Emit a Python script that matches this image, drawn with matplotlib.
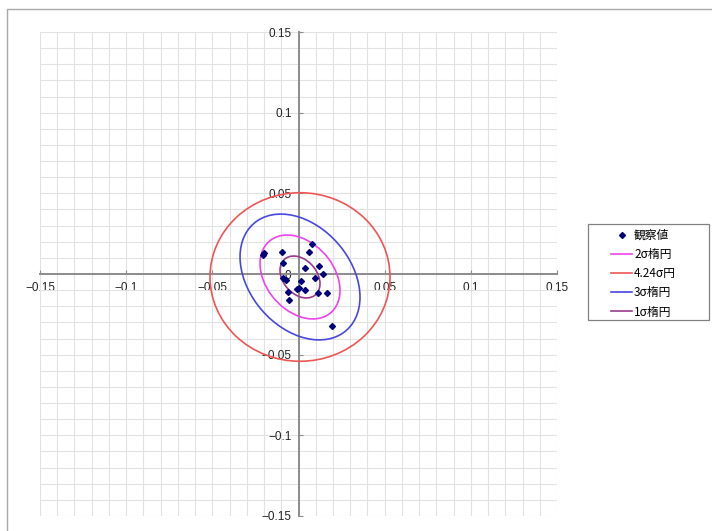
import numpy as np
import matplotlib
matplotlib.use('Agg')
from matplotlib import pyplot as plt
from matplotlib.patches import Ellipse, Circle, Rectangle
from matplotlib.lines import Line2D
from matplotlib.ticker import MultipleLocator, FuncFormatter

plt.rcParams['font.family'] = ['Liberation Sans', 'DejaVu Sans']

# observed deviations
obs_x = [-0.0200, -0.0204, -0.0094, 0.0080, 0.0063, -0.0092, 0.0038, 0.0121, 0.0140, 0.0096, -0.0088,
         -0.0075, 0.0015, -0.0010, 0.0003, 0.0038, -0.0059, 0.0111, 0.0164, -0.0055, 0.0193]
obs_y = [0.0129, 0.0119, 0.0135, 0.0187, 0.0135, 0.0071, 0.0036, 0.0051, -0.0001, -0.0026, -0.0026,
         -0.0040, -0.0046, -0.0092, -0.0084, -0.0102, -0.0113, -0.0119, -0.0119, -0.0160, -0.0325]

# error ellipse parameters
sig_x = 0.0116
sig_y = 0.0130
rho = -0.32
ellipse_k = [2, 3, 1]
ellipse_labels = ['2σ楕円', '3σ楕円', '1σ楕円']
ellipse_colors = ['#ee44ee', '#4848e0', '#983c8c']
circle_k = 4.24
circle_label = '4.24σ円'
circle_color = '#ee5555'
obs_label = '観察値'

ticks = [-0.15, -0.1, -0.05, 0, 0.05, 0.1, 0.15]

cx, cy = np.mean(obs_x), np.mean(obs_y)
cov = np.array([[sig_x ** 2, rho * sig_x * sig_y], [rho * sig_x * sig_y, sig_y ** 2]])
vals, vecs = np.linalg.eigh(cov)
angle = np.degrees(np.arctan2(vecs[1, 1], vecs[0, 1]))
sig_r = np.sqrt((sig_x ** 2 + sig_y ** 2) / 2)

fig = plt.figure(figsize=(7.12, 5.31), dpi=100)
ax = fig.add_axes([40 / 712, 1 - 516 / 531, 517 / 712, 484 / 531])

ax.set_xlim(-0.15, 0.15)
ax.set_ylim(-0.15, 0.15)
ax.set_xticks(ticks)
ax.set_yticks(ticks)
ax.xaxis.set_minor_locator(MultipleLocator(0.01))
ax.yaxis.set_minor_locator(MultipleLocator(0.01))
ax.grid(which='both', color='#e2e2e2', lw=0.8, zorder=0)
ax.set_axisbelow(True)

for s in ['top', 'right']:
    ax.spines[s].set_visible(False)
for s in ['left', 'bottom']:
    ax.spines[s].set_position('zero')
    ax.spines[s].set_color('#8c8c8c')
    ax.spines[s].set_linewidth(1.4)

def fmt(v, pos, skip_zero=False):
    if abs(v) < 1e-9:
        return '' if skip_zero else '0'
    return ('%g' % v).replace('-', '\u2212')

ax.xaxis.set_major_formatter(FuncFormatter(lambda v, p: fmt(v, p, True)))
ax.yaxis.set_major_formatter(FuncFormatter(fmt))
ax.tick_params(which='major', direction='in', length=3, color='#8c8c8c', labelsize=8.5, labelcolor='#222222')
ax.tick_params(axis='x', which='major', pad=6)
ax.tick_params(axis='y', which='major', pad=5)
ax.tick_params(which='minor', length=0)

ax.add_patch(Circle((cx, cy), circle_k * sig_r, fill=False, ec=circle_color, lw=1.2, zorder=3))
for k, c in zip(ellipse_k, ellipse_colors):
    ax.add_patch(Ellipse((cx, cy), 2 * k * np.sqrt(vals[1]), 2 * k * np.sqrt(vals[0]),
                         angle=angle, fill=False, ec=c, lw=1.2, zorder=3))

ax.plot(obs_x, obs_y, 'D', color='#00007a', ms=3.0, zorder=4)

handles = [Line2D([], [], ls='none', marker='D', color='#00007a', ms=3.0),
           Line2D([], [], color=ellipse_colors[0], lw=1.2),
           Line2D([], [], color=circle_color, lw=1.2),
           Line2D([], [], color=ellipse_colors[1], lw=1.2),
           Line2D([], [], color=ellipse_colors[2], lw=1.2)]
labels = [obs_label, ellipse_labels[0], circle_label, ellipse_labels[1], ellipse_labels[2]]
leg = fig.legend(handles, labels, loc='upper left', bbox_to_anchor=(611 / 712, 1 - 229 / 531),
                 prop={'family': ['Noto Sans CJK JP', 'DejaVu Sans'], 'size': 8.5},
                 frameon=False, handlelength=1.8, handletextpad=0.15, labelspacing=0.52,
                 borderpad=0, borderaxespad=0)

# legend box
fig.add_artist(Rectangle((588 / 712, 1 - 320 / 531), 121 / 712, 96 / 531, transform=fig.transFigure,
                         fill=True, fc='white', ec='#808080', lw=0.9, zorder=1))
leg.set_zorder(2)

# chart area border
fig.add_artist(Rectangle((7 / 712, -0.05), 1.0, 1 - 9 / 531 + 0.05, transform=fig.transFigure,
                         fill=False, ec='#a8a8a8', lw=1.0))

fig.savefig('out.png', dpi=100)
